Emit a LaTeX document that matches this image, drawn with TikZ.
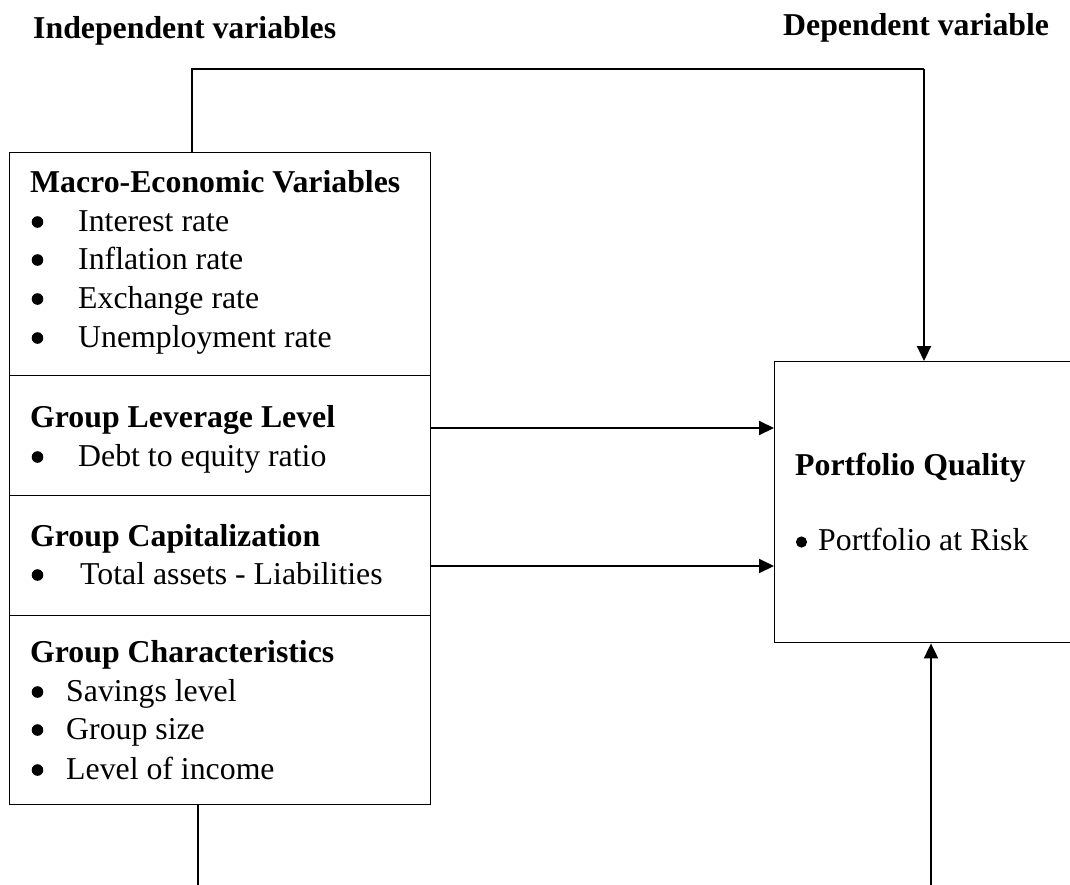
\documentclass[tikz,border=0pt]{standalone}
\usepackage{fontspec}
\setmainfont{Liberation Serif}
\usetikzlibrary{arrows.meta}
\begin{document}
\begin{tikzpicture}[x=1pt,y=1pt,
  box/.style={draw,line width=1.4pt,inner sep=0pt,anchor=north west},
  txt/.style={anchor=base west,inner sep=0pt,font=\fontsize{31.8}{38}\selectfont},
  hd/.style={txt,font=\fontsize{31.8}{38}\selectfont\bfseries},
  bulletdot/.style={fill=black,draw=none},
  conn/.style={line width=2pt},
  arr/.style={conn,-{Triangle[length=15pt,width=14pt]}}]
\useasboundingbox (0,0) rectangle (1070,-884);
% headers
\node[hd] (ind) at (33,-38) {Independent variables};
\node[hd] (dep) at (783,-35) {Dependent variable};
% left boxes
\node[box,minimum width=421pt,minimum height=223pt] (macro) at (9,-152) {};
\node[box,minimum width=421pt,minimum height=120pt] (lev) at (9,-375) {};
\node[box,minimum width=421pt,minimum height=120pt] (cap) at (9,-495) {};
\node[box,minimum width=421pt,minimum height=189pt] (chars) at (9,-615) {};
% right box
\node[box,minimum width=300pt,minimum height=281pt] (pq) at (774,-361) {};
% texts
\node[hd] (h1) at (30,-192) {Macro-Economic Variables};
\node[txt] (i1) at (78,-231) {Interest rate};
\node[txt] (i2) at (78,-269) {Inflation rate};
\node[txt] (i3) at (78,-308) {Exchange rate};
\node[txt] (i4) at (78,-347) {Unemployment rate};
\node[hd] (h2) at (30,-427) {Group Leverage Level};
\node[txt] (i5) at (78,-466) {Debt to equity ratio};
\node[hd] (h3) at (30,-546) {Group Capitalization};
\node[txt] (i6) at (80,-584) {Total assets - Liabilities};
\node[hd] (h4) at (30,-662) {Group Characteristics};
\node[txt] (i7) at (66,-701) {Savings level};
\node[txt] (i8) at (66,-739) {Group size};
\node[txt] (i9) at (66,-779) {Level of income};
\node[hd] (h5) at (795,-475) {Portfolio Quality};
\node[txt] (i10) at (818,-550) {Portfolio at Risk};
% bullets
\foreach \y in {231,269,308,347,466,584,701,739,779}
  \path[bulletdot] (37.5,-\y+9) circle[radius=5.8pt];
\path[bulletdot] (801.5,-542) circle[radius=5.6pt];
% connectors
\coordinate (t1) at (192,-69);
\coordinate (t2) at (924,-69);
\draw[conn] (t1 |- macro.north) -- (t1) -- (t2);
\draw[arr] (t2) -- (t2 |- pq.north);
\coordinate (a1) at (0,-428);
\coordinate (a2) at (0,-566);
\draw[arr] (a1 -| lev.east) -- (a1 -| pq.west);
\draw[arr] (a2 -| cap.east) -- (a2 -| pq.west);
\coordinate (b1) at (198,-886);
\draw[conn] (chars.south -| b1) -- (b1);
\coordinate (b2) at (931,-886);
\draw[arr] (b2) -- (b2 |- pq.south);
\end{tikzpicture}
\end{document}
